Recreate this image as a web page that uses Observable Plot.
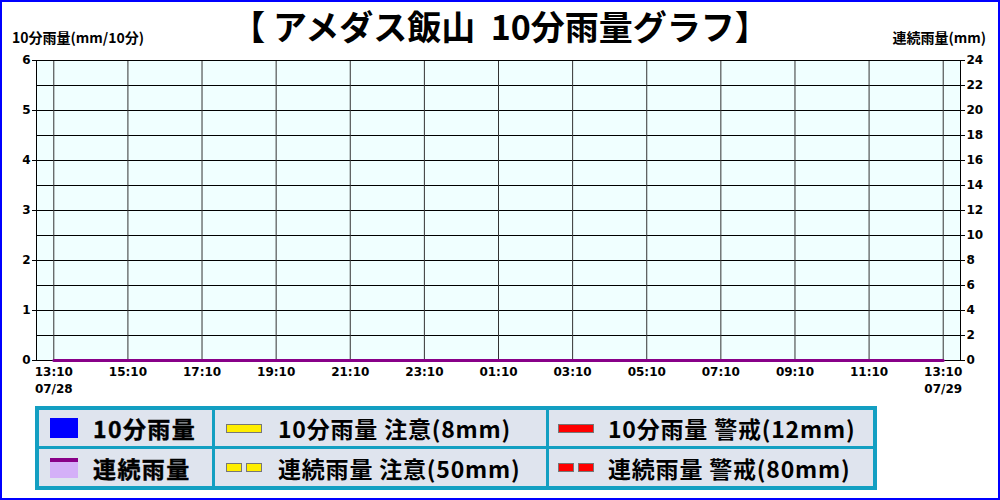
<!DOCTYPE html>
<html><head><meta charset="utf-8">
<script src="https://cdn.jsdelivr.net/npm/d3@7"></script>
<script src="https://cdn.jsdelivr.net/npm/@observablehq/plot@0.6"></script>
<style>
body{margin:0;background:#fff;}
#wrap{position:relative;width:1000px;height:500px;overflow:hidden;background:#fff;font-family:"Noto Sans CJK JP","Noto Sans",sans-serif;color:#000;}
#border{position:absolute;left:0;top:0;width:1000px;height:500px;box-sizing:border-box;border:2px solid #0000ff;pointer-events:none;z-index:10;}
#chart{position:absolute;left:0;top:0;}
#title{position:absolute;left:0;top:5px;width:1000px;text-align:center;font-size:34px;font-weight:bold;line-height:42px;white-space:pre;}
#ylabL{position:absolute;left:12px;top:28px;font-size:14px;font-weight:bold;line-height:18px;white-space:nowrap;}
#ylabR{position:absolute;right:14px;top:28px;font-size:14px;font-weight:bold;line-height:18px;white-space:nowrap;}
#legend{position:absolute;left:35px;top:406px;background:#139fc2;padding:4px;display:grid;grid-template-columns:173px 331px 324px;grid-template-rows:36px 37px;gap:3px;}
.cell{background:#dfe4ee;display:flex;align-items:center;white-space:nowrap;font-size:23px;letter-spacing:0.8px;font-weight:bold;}
.c1{letter-spacing:1.4px;-webkit-text-stroke:0.4px #000;}
.sw{flex:none;box-sizing:border-box;}
</style>
</head><body>
<div id="wrap">
  <div id="chart"></div>
  <div id="title"></div>
  <div id="ylabL"></div>
  <div id="ylabR"></div>
  <div id="legend"></div>
  <div id="border"></div>
</div>
<script>
// ---- data ----
const titleText = "【 アメダス飯山  10分雨量グラフ】";
const leftLabel = "10分雨量(mm/10分)";
const rightLabel = "連続雨量(mm)";
const startTime = Date.UTC(2024, 6, 28, 13, 10);   // 07/28 13:10
const stepMinutes = 10;
// 10分雨量 (mm/10分), 145 observations 13:10 .. 13:10 next day (24 per 4 hours)
const rain10 = [
  0,0,0,0,0,0,0,0,0,0,0,0, 0,0,0,0,0,0,0,0,0,0,0,0,
  0,0,0,0,0,0,0,0,0,0,0,0, 0,0,0,0,0,0,0,0,0,0,0,0,
  0,0,0,0,0,0,0,0,0,0,0,0, 0,0,0,0,0,0,0,0,0,0,0,0,
  0,0,0,0,0,0,0,0,0,0,0,0, 0,0,0,0,0,0,0,0,0,0,0,0,
  0,0,0,0,0,0,0,0,0,0,0,0, 0,0,0,0,0,0,0,0,0,0,0,0,
  0,0,0,0,0,0,0,0,0,0,0,0, 0,0,0,0,0,0,0,0,0,0,0,0,
  0
];
// 連続雨量 (mm)
const rainCum = [
  0,0,0,0,0,0,0,0,0,0,0,0, 0,0,0,0,0,0,0,0,0,0,0,0,
  0,0,0,0,0,0,0,0,0,0,0,0, 0,0,0,0,0,0,0,0,0,0,0,0,
  0,0,0,0,0,0,0,0,0,0,0,0, 0,0,0,0,0,0,0,0,0,0,0,0,
  0,0,0,0,0,0,0,0,0,0,0,0, 0,0,0,0,0,0,0,0,0,0,0,0,
  0,0,0,0,0,0,0,0,0,0,0,0, 0,0,0,0,0,0,0,0,0,0,0,0,
  0,0,0,0,0,0,0,0,0,0,0,0, 0,0,0,0,0,0,0,0,0,0,0,0,
  0
];
const xTickLabels = ["13:10","15:10","17:10","19:10","21:10","23:10","01:10","03:10","05:10","07:10","09:10","11:10","13:10"];
const xDateLabels = ["07/28","","","","","","","","","","","","07/29"];
const leftTicks = [0,1,2,3,4,5,6];
const rightTicks = [0,2,4,6,8,10,12,14,16,18,20,22,24];
const warn10 = {caution: 8, alert: 12};
const warnCum = {caution: 50, alert: 80};
const legendItems = [
  {label: "10分雨量", kind: "box", color: "#0000ff"},
  {label: "10分雨量 注意(8mm)", kind: "line", color: "#ffee00"},
  {label: "10分雨量 警戒(12mm)", kind: "line", color: "#ff0000"},
  {label: "連続雨量", kind: "cum", color: "#d4b0f8"},
  {label: "連続雨量 注意(50mm)", kind: "dash", color: "#ffee00"},
  {label: "連続雨量 警戒(80mm)", kind: "dash", color: "#ff0000"}
];

// ---- build ----
const MIN = 60000;
const rows = rain10.map((v, i) => ({t: new Date(startTime + i * stepMinutes * MIN), r: v, c: rainCum[i]}));
const xTicks = xTickLabels.map((_, i) => new Date(startTime + i * 120 * MIN));
const cumScale = 4; // right axis = left * 4

document.getElementById("title").textContent = titleText;
document.getElementById("ylabL").textContent = leftLabel;
document.getElementById("ylabR").textContent = rightLabel;

const chart = Plot.plot({
  width: 1000, height: 400,
  marginTop: 60, marginBottom: 40, marginLeft: 36, marginRight: 40,
  style: {fontFamily: "DejaVu Sans", fontSize: "12px", fontWeight: "bold", background: "transparent", color: "#000"},
  x: {type: "utc", domain: [new Date(startTime - 28 * MIN), new Date(startTime + (1440 + 28) * MIN)]},
  y: {domain: [0, 6]},
  marks: [
    Plot.frame({fill: "#f0ffff"}),
    Plot.gridY({ticks: d3.range(0, 6.01, 0.5), stroke: "#000", strokeOpacity: 1}),
    Plot.gridX({ticks: xTicks, stroke: "#333", strokeOpacity: 1}),
    Plot.frame({stroke: "#000", strokeWidth: 1}),
    Plot.rectY(rows, {x1: "t", x2: d => new Date(+d.t + stepMinutes * MIN), y: "r", fill: "#0000ff"}),
    Plot.ruleY([warn10.caution], {stroke: "#ffee00", strokeWidth: 3, clip: true}),
    Plot.ruleY([warn10.alert], {stroke: "#ff0000", strokeWidth: 3, clip: true}),
    Plot.ruleY([warnCum.caution / cumScale], {stroke: "#ffee00", strokeWidth: 3, strokeDasharray: "12,4", clip: true}),
    Plot.ruleY([warnCum.alert / cumScale], {stroke: "#ff0000", strokeWidth: 3, strokeDasharray: "12,4", clip: true}),
    Plot.lineY(rows, {x: "t", y: d => d.c / cumScale, stroke: "#880088", strokeWidth: 3}),
    Plot.axisY({ticks: leftTicks, anchor: "left", tickSize: 4, tickPadding: 2, tickFormat: d => String(d), label: null}),
    Plot.axisY({ticks: rightTicks.map(v => v / cumScale), anchor: "right", tickSize: 4, tickPadding: 2, tickFormat: d => String(Math.round(d * cumScale)), label: null}),
    Plot.axisX({ticks: xTicks, anchor: "bottom", tickSize: 0, tickPadding: 4, lineHeight: 1.4,
      tickFormat: (d) => { const k = xTicks.findIndex(t => +t === +d); return xTickLabels[k] + (xDateLabels[k] ? "\n" + xDateLabels[k] : ""); },
      label: null})
  ]
});
document.getElementById("chart").appendChild(chart);

// legend
const leg = document.getElementById("legend");
const pad = [11, 11, 9];
const gap = [15, 16, 14];
legendItems.forEach((it, idx) => {
  const col = idx % 3;
  const cell = document.createElement("div");
  cell.className = "cell" + (col === 0 ? " c1" : "");
  const sw = document.createElement("div");
  sw.className = "sw";
  sw.style.marginLeft = pad[col] + "px";
  sw.style.marginRight = gap[col] + "px";
  if (it.kind === "box") {
    sw.style.width = "28px"; sw.style.height = "20px"; sw.style.background = it.color;
  } else if (it.kind === "cum") {
    sw.style.width = "28px"; sw.style.height = "20px"; sw.style.background = it.color;
    sw.style.borderTop = "4px solid #880088";
  } else if (it.kind === "line") {
    sw.style.width = "36px"; sw.style.height = "9px"; sw.style.background = it.color;
    sw.style.border = "1px solid #777";
  } else {
    sw.style.width = "36px"; sw.style.height = "9px"; sw.style.display = "flex"; sw.style.justifyContent = "space-between";
    for (let j = 0; j < 2; j++) {
      const s = document.createElement("div");
      s.style.width = "16px"; s.style.height = "9px"; s.style.boxSizing = "border-box";
      s.style.background = it.color; s.style.border = "1px solid #777";
      sw.appendChild(s);
    }
  }
  cell.appendChild(sw);
  const tx = document.createElement("span");
  tx.textContent = it.label;
  cell.appendChild(tx);
  leg.appendChild(cell);
});
</script>
</body></html>
